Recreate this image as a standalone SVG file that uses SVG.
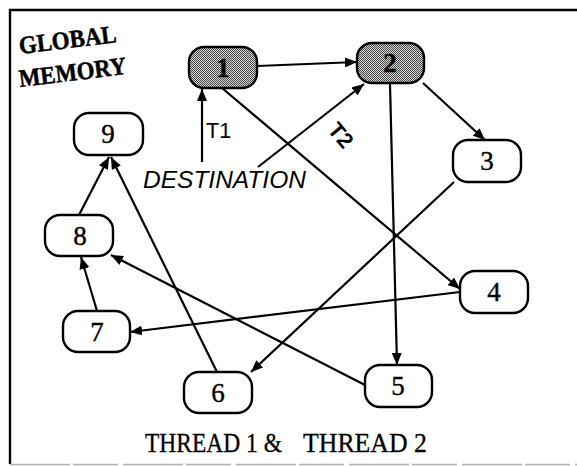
<svg xmlns="http://www.w3.org/2000/svg" width="577" height="466" viewBox="0 0 577 466">
  <defs>
    <style>
      .node rect { fill: #fff; stroke: #000; stroke-width: 2.4; }
      .node.shaded rect { fill: url(#dots); }
      .node text { font-family: "Liberation Serif", "Times New Roman", serif; font-size: 27px; text-anchor: middle; fill: #000; stroke: #000; stroke-width: 0.4; }
      .node.shaded text { font-weight: bold; }
      .edges line { stroke: #000; stroke-width: 2.2; marker-end: url(#arrow); }
      .label-sans { font-family: "Liberation Sans", Arial, sans-serif; fill: #000; }
      .label-serif { font-family: "Liberation Serif", "Times New Roman", serif; fill: #000; }
    </style>
    <pattern id="dots" width="2" height="2" patternUnits="userSpaceOnUse">
      <rect width="2" height="2" fill="#d8d8d8"/>
      <rect width="1" height="1" fill="#444"/>
      <rect x="1" y="1" width="1" height="1" fill="#444"/>
    </pattern>
    <marker id="arrow" viewBox="0 0 12 10" refX="12" refY="5" markerWidth="12" markerHeight="10" markerUnits="userSpaceOnUse" orient="auto">
      <path d="M0,0 L12,5 L0,10 Z" fill="#000"/>
    </marker>
  </defs>

  <rect width="577" height="466" fill="#fff"/>

  <!-- frame -->
  <path d="M577,10 H10 V464" fill="none" stroke="#000" stroke-width="2.4"/>
  <line x1="10" y1="464.5" x2="577" y2="464.5" stroke="#b0b0b0" stroke-width="1.5" stroke-dasharray="60 3 45 5"/>

  <!-- titles -->
  <g id="title" class="label-serif" font-weight="bold" font-size="25" stroke="#000" stroke-width="0.5">
    <text x="20" y="54" transform="rotate(-7 20 54)" textLength="98" lengthAdjust="spacingAndGlyphs">GLOBAL</text>
    <text x="20" y="87" transform="rotate(-7 20 87)" textLength="108" lengthAdjust="spacingAndGlyphs">MEMORY</text>
  </g>
  <text id="caption" class="label-serif" font-size="28" y="452" stroke="#000" stroke-width="0.3">
    <tspan x="145" textLength="137" lengthAdjust="spacingAndGlyphs">THREAD 1 &amp;</tspan>
    <tspan x="303" textLength="124" lengthAdjust="spacingAndGlyphs">THREAD 2</tspan>
  </text>

  <!-- connectors -->
  <g id="edges" class="edges">
    <line x1="257" y1="66" x2="357" y2="62"/>
    <line x1="423" y1="83" x2="485" y2="140"/>
    <line x1="390" y1="84" x2="397" y2="365"/>
    <line x1="222" y1="88" x2="460" y2="289"/>
    <line x1="454" y1="182" x2="251" y2="372"/>
    <line x1="460" y1="292" x2="130" y2="332"/>
    <line x1="365" y1="385" x2="111" y2="255"/>
    <line x1="217" y1="372" x2="111" y2="157"/>
    <line x1="97" y1="311" x2="81" y2="257"/>
    <line x1="79" y1="215" x2="109" y2="157"/>
    <line x1="202" y1="162" x2="202" y2="89"/>
    <line x1="258" y1="167" x2="364" y2="84"/>
  </g>

  <!-- destination labels -->
  <g id="destination">
    <text class="label-sans" x="143" y="188" font-size="24.5" font-style="italic">DESTINATION</text>
    <text class="label-sans" x="206" y="138" font-size="21.5">T1</text>
    <text class="label-sans" x="335" y="140" font-size="22" font-weight="bold" text-anchor="middle" transform="rotate(50 335 140)">T2</text>
  </g>

  <!-- nodes -->
  <g id="node1" class="node shaded">
    <rect x="189" y="47" width="68" height="41" rx="15"/>
    <text x="223" y="77">1</text>
  </g>
  <g id="node2" class="node shaded">
    <rect x="357" y="43" width="67" height="40" rx="15"/>
    <text x="390" y="72">2</text>
  </g>
  <g id="node3" class="node">
    <rect x="453" y="140" width="68" height="42" rx="15"/>
    <text x="487" y="170">3</text>
  </g>
  <g id="node4" class="node">
    <rect x="460" y="271" width="68" height="42" rx="15"/>
    <text x="494" y="301">4</text>
  </g>
  <g id="node5" class="node">
    <rect x="365" y="365" width="67" height="42" rx="15"/>
    <text x="398" y="395">5</text>
  </g>
  <g id="node6" class="node">
    <rect x="184" y="372" width="68" height="41" rx="15"/>
    <text x="218" y="402">6</text>
  </g>
  <g id="node7" class="node">
    <rect x="63" y="311" width="67" height="41" rx="15"/>
    <text x="97" y="341">7</text>
  </g>
  <g id="node8" class="node">
    <rect x="45" y="215" width="68" height="41" rx="15"/>
    <text x="80" y="245">8</text>
  </g>
  <g id="node9" class="node">
    <rect x="74" y="113" width="69" height="42" rx="15"/>
    <text x="108" y="143">9</text>
  </g>
</svg>
